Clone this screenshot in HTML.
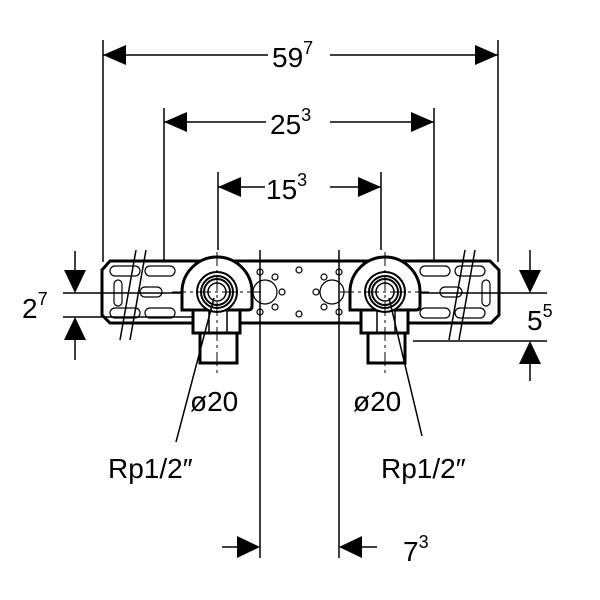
<!DOCTYPE html>
<html><head><style>body{margin:0;background:#fff}svg{display:block}</style></head><body>
<svg width="600" height="600" viewBox="0 0 600 600" xmlns="http://www.w3.org/2000/svg" font-family="Liberation Sans, sans-serif">
<defs>
<g id="fit">
  <path d="M-35 18 L-35 0 A35 35 0 0 1 35 0 L35 14 Q35 18 31 18 Z" fill="#fff" stroke="#000" stroke-width="3"/>
  <rect x="-24" y="18" width="47" height="23" fill="#fff" stroke="#000" stroke-width="3"/>
  <rect x="-17" y="41" width="37" height="30" fill="#fff" stroke="#000" stroke-width="3"/>
  <line x1="-8" y1="18" x2="-8" y2="41" stroke="#000" stroke-width="1.5"/>
  <line x1="10" y1="18" x2="10" y2="41" stroke="#000" stroke-width="1.5"/>
  <circle r="20" fill="#fff" stroke="#000" stroke-width="2"/>
  <circle r="16" fill="none" stroke="#000" stroke-width="2"/>
  <circle r="13" fill="none" stroke="#000" stroke-width="2"/>
  <circle r="9" fill="#fff" stroke="#000" stroke-width="1.5"/>
  <line x1="0" y1="-40" x2="0" y2="82" stroke="#000" stroke-width="1" stroke-dasharray="14 4 3 4"/>
  <line x1="-45" y1="0" x2="45" y2="0" stroke="#000" stroke-width="1" stroke-dasharray="14 4 3 4"/>
</g>
</defs>
<g stroke="#000" fill="none" stroke-width="1.5">
<line x1="103" y1="40" x2="103" y2="262"/><line x1="498" y1="40" x2="498" y2="262"/>
<line x1="164" y1="108" x2="164" y2="262"/><line x1="434" y1="108" x2="434" y2="262"/>
<line x1="218" y1="172" x2="218" y2="250"/><line x1="381" y1="172" x2="381" y2="250"/>
<line x1="103" y1="55" x2="270" y2="55"/><line x1="330" y1="55" x2="498" y2="55"/>
<line x1="164" y1="122" x2="268" y2="122"/><line x1="330" y1="122" x2="434" y2="122"/>
<line x1="218" y1="187" x2="265" y2="187"/><line x1="330" y1="187" x2="381" y2="187"/>
<path d="M110 261 L490 261 L499 270 L499 315 L491 323 L110 323 L102 315 L102 270 Z" stroke-width="3" fill="#fff"/>
<g stroke-width="1.2">
<rect x="110" y="266" width="30" height="10" rx="5"/><rect x="145" y="266" width="30" height="10" rx="5"/>
<rect x="110" y="308" width="30" height="10" rx="5"/><rect x="145" y="308" width="30" height="10" rx="5"/>
<rect x="114" y="280" width="8" height="26" rx="4"/><rect x="140" y="287" width="22" height="10" rx="5"/>
<rect x="420" y="266" width="30" height="10" rx="5"/><rect x="455" y="266" width="30" height="10" rx="5"/>
<rect x="420" y="308" width="30" height="10" rx="5"/><rect x="455" y="308" width="30" height="10" rx="5"/>
<rect x="482" y="280" width="8" height="26" rx="4"/><rect x="440" y="287" width="22" height="10" rx="5"/>
<circle cx="265" cy="292" r="12"/><circle cx="332" cy="292" r="12"/>
<circle cx="260" cy="272" r="3"/><circle cx="260" cy="312" r="3"/><circle cx="275" cy="277" r="3"/><circle cx="275" cy="307" r="3"/><circle cx="282" cy="292" r="3"/>
<circle cx="339" cy="272" r="3"/><circle cx="339" cy="312" r="3"/><circle cx="324" cy="277" r="3"/><circle cx="324" cy="307" r="3"/><circle cx="316" cy="292" r="3"/>
<circle cx="299" cy="270" r="3"/><circle cx="299" cy="314" r="3"/>
</g>
<line x1="136" y1="250" x2="120" y2="340"/><line x1="146" y1="250" x2="130" y2="340"/>
<line x1="465" y1="250" x2="449" y2="340"/><line x1="475" y1="250" x2="459" y2="340"/>
<line x1="260" y1="250" x2="260" y2="558"/><line x1="339" y1="250" x2="339" y2="558"/>
<line x1="63" y1="293" x2="200" y2="293"/><line x1="63" y1="317" x2="195" y2="317"/>
<line x1="400" y1="293" x2="547" y2="293"/><line x1="413" y1="341" x2="547" y2="341"/>
<line x1="75" y1="251" x2="75" y2="270"/><line x1="75" y1="340" x2="75" y2="360"/>
<line x1="530" y1="250" x2="530" y2="270"/><line x1="530" y1="364" x2="530" y2="381"/>
<line x1="222" y1="547" x2="238" y2="547"/><line x1="360" y1="547" x2="377" y2="547"/>
</g>
<use href="#fit" x="217" y="292"/>
<use href="#fit" x="385" y="292"/>
<g stroke="#000" stroke-width="1.5">
<line x1="214" y1="298" x2="176" y2="442"/><line x1="389" y1="298" x2="422" y2="436"/>
</g>
<g fill="#000">
<polygon points="103,55 126,45 126,65"/><polygon points="498,55 475,45 475,65"/>
<polygon points="164,122 187,112 187,132"/><polygon points="434,122 411,112 411,132"/>
<polygon points="218,187 241,177 241,197"/><polygon points="381,187 358,177 358,197"/>
<polygon points="75,293 64,270 86,270"/><polygon points="75,317 64,340 86,340"/>
<polygon points="530,293 519,270 541,270"/><polygon points="530,341 519,364 541,364"/>
<polygon points="260,547 237,536 237,558"/><polygon points="339,547 362,536 362,558"/>
</g>
<g font-size="28" fill="#000">
<rect x="268" y="40" width="62" height="30" fill="#fff"/>
<text x="272" y="67">59<tspan font-size="18" dy="-13">7</tspan></text>
<rect x="266" y="108" width="64" height="30" fill="#fff"/>
<text x="270" y="134">25<tspan font-size="18" dy="-13">3</tspan></text>
<text x="266" y="199">15<tspan font-size="18" dy="-13">3</tspan></text>
<text x="22" y="318">2<tspan font-size="18" dy="-13">7</tspan></text>
<text x="527" y="330">5<tspan font-size="18" dy="-13">5</tspan></text>
<text x="403" y="561">7<tspan font-size="18" dy="-13">3</tspan></text>
<text x="190" y="411">ø20</text>
<text x="353" y="411">ø20</text>
<text x="108" y="478">Rp1/2″</text>
<text x="381" y="478">Rp1/2″</text>
</g>
</svg>
</body></html>
